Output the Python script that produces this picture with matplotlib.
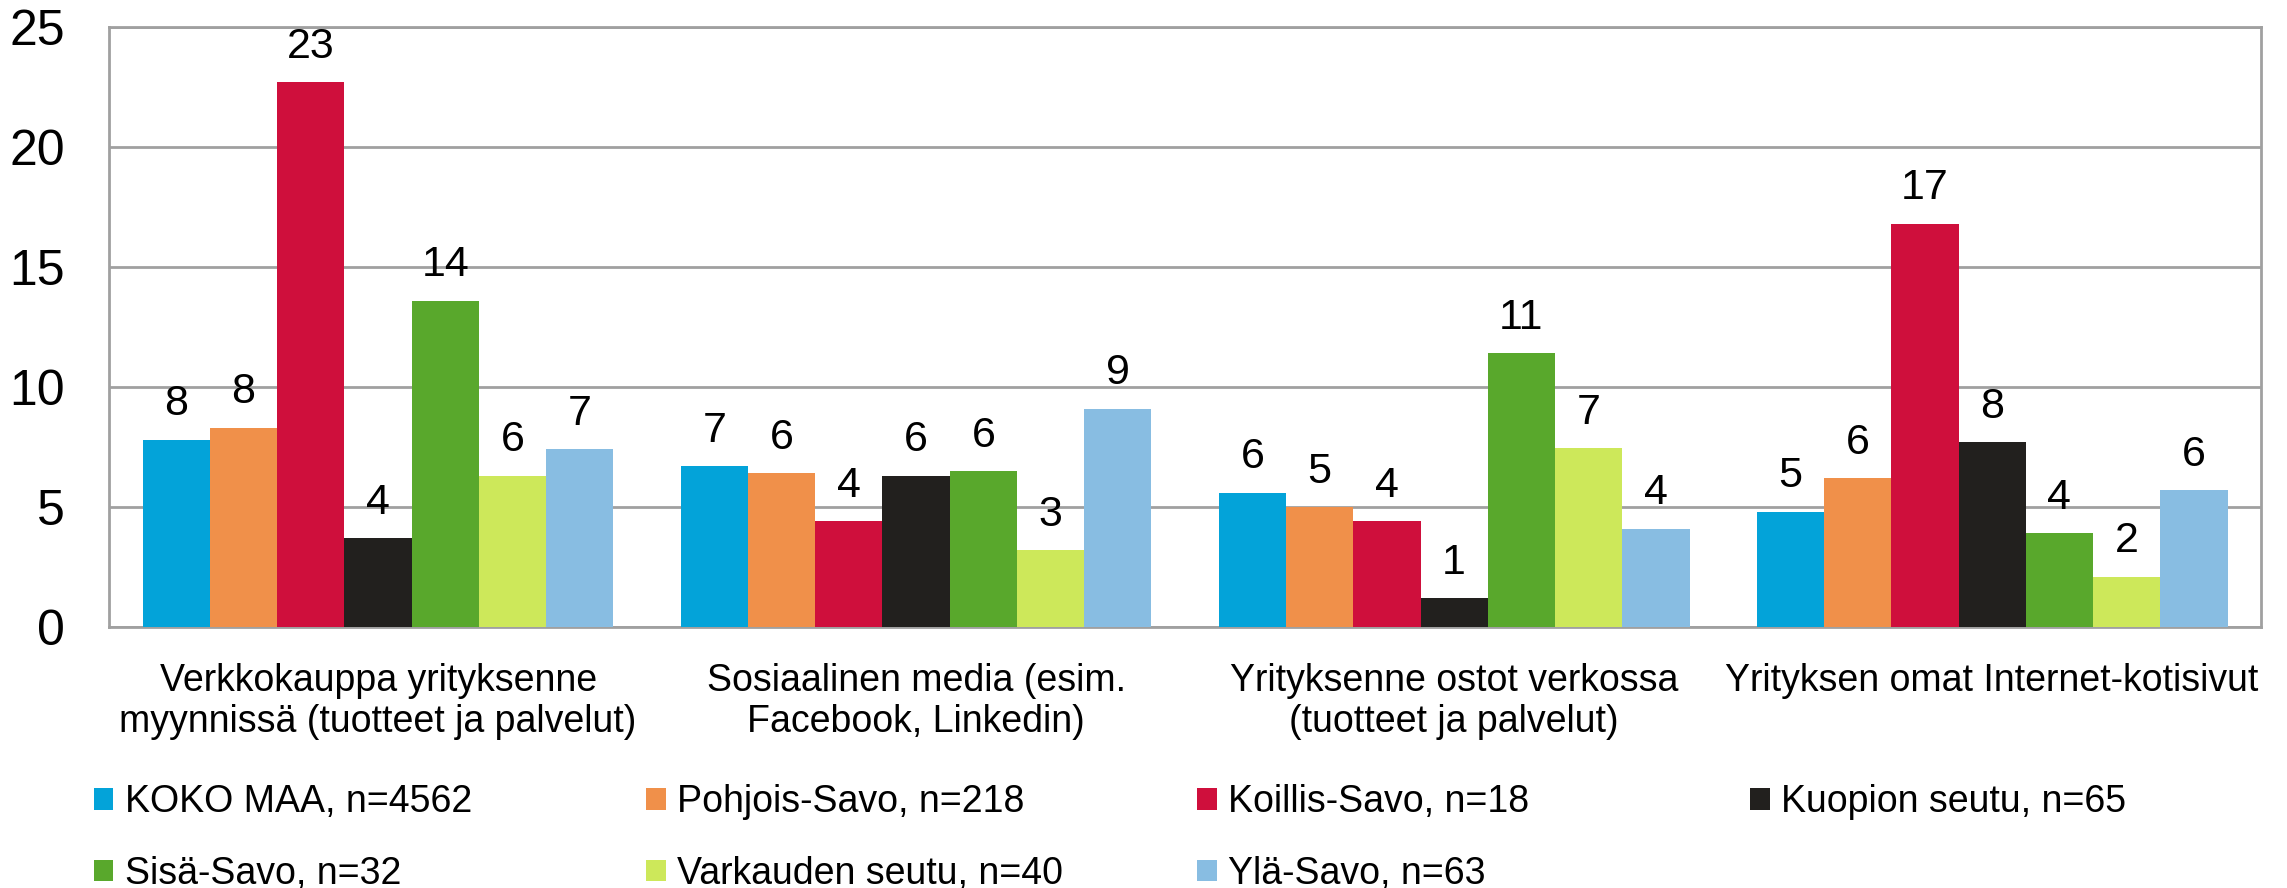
import numpy as np
import matplotlib.pyplot as plt

plt.rcParams['font.family'] = ['Liberation Sans', 'DejaVu Sans']

# categories and series (percent)
categories = ['Verkkokauppa yrityksenne\nmyynnissä (tuotteet ja palvelut)',
              'Sosiaalinen media (esim.\nFacebook, Linkedin)',
              'Yrityksenne ostot verkossa\n(tuotteet ja palvelut)',
              'Yrityksen omat Internet-kotisivut']
series_names = ['KOKO MAA, n=4562', 'Pohjois-Savo, n=218', 'Koillis-Savo, n=18',
                'Kuopion seutu, n=65', 'Sisä-Savo, n=32', 'Varkauden seutu, n=40',
                'Ylä-Savo, n=63']
koko_maa = [7.8, 6.7, 5.6, 4.8]
pohjois_savo = [8.3, 6.4, 5.0, 6.2]
koillis_savo = [22.7, 4.4, 4.4, 16.8]
kuopion_seutu = [3.7, 6.3, 1.2, 7.7]
sisa_savo = [13.6, 6.5, 11.4, 3.9]
varkauden_seutu = [6.3, 3.2, 7.45, 2.1]
yla_savo = [7.4, 9.1, 4.1, 5.7]
y_ticks = [0, 5, 10, 15, 20, 25]

series = [koko_maa, pohjois_savo, koillis_savo, kuopion_seutu,
          sisa_savo, varkauden_seutu, yla_savo]
colors = ['#03A3D9', '#F0904A', '#CF0F3C', '#22201E', '#59A82C', '#CDE85A', '#88BDE2']

fig = plt.figure(figsize=(22.87, 8.88), dpi=100)
ax = fig.add_axes([0.0477, 0.294, 0.941, 0.6756])

x = np.arange(len(categories))
w = 0.125
bars = []
for j, (vals, c, name) in enumerate(zip(series, colors, series_names)):
    b = ax.bar(x + (j - 3) * w, vals, w, color=c, label=name, zorder=3)
    ax.bar_label(b, fmt='%.0f', padding=11, fontsize=31)
    bars.append(b)

ax.set_xlim(-0.5, 3.5)
ax.set_ylim(0, 25)
ax.set_yticks(y_ticks)
ax.yaxis.grid(True, color='#A0A0A0', linewidth=2, zorder=0)
for s in ax.spines.values():
    s.set_color('#A0A0A0')
    s.set_linewidth(2)
ax.tick_params(axis='y', length=0, pad=32, labelsize=36)
ax.tick_params(axis='x', length=0, pad=26, labelsize=27)
ax.set_xticks(x, categories)
for t in ax.get_xticklabels():
    t.set_linespacing(1.19)

# legend: four columns with equal starts
cols = [[0, 4], [1, 5], [2, 6], [3]]
col_x = [94, 646, 1197, 1750]
for idx, cx in zip(cols, col_x):
    fig.legend([bars[i] for i in idx], [series_names[i] for i in idx],
               loc='upper left', bbox_to_anchor=(cx / 2287, 0.117),
               frameon=False, fontsize=27, handlelength=0.52, handleheight=0.52,
               handletextpad=0.3, labelspacing=0.95, borderpad=0, borderaxespad=0)

fig.savefig('out.png', dpi=100)
